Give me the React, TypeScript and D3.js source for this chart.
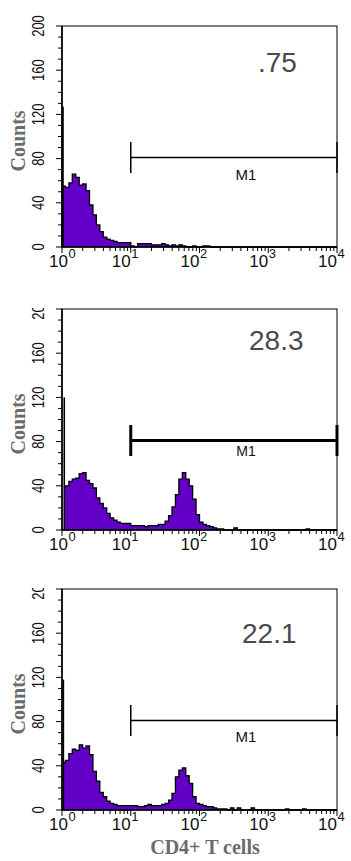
import React, { useEffect, useRef } from 'react';
import * as d3 from 'd3';

// histogram counts, one value per 0.05-decade channel bin from 10^0 to 10^4
const BIN = 0.05;
const countsA = [
  55, 54, 58, 66, 63, 56, 57, 51, 38, 29,
  20, 14, 9, 7, 6, 5, 4, 4, 4, 4,
  1, 0, 3, 3, 3, 3, 2, 2, 2, 3,
  2, 1, 2, 1, 2, 1, 0, 0, 1, 0,
  0, 1, 1, 0, 0, 0, 0, 0, 0, 0,
  0, 0, 0, 0, 0, 0, 0, 0, 0, 0,
  0, 0, 0, 0, 0, 0, 0, 0, 0, 0,
  0, 0, 0, 0, 0, 0, 0, 0, 0, 0,
];
const countsB = [
  38, 40, 44, 46, 47, 51, 52, 45, 42, 38,
  29, 24, 20, 15, 11, 9, 7, 6, 6, 6,
  4, 4, 4, 4, 3, 4, 4, 4, 5, 5,
  8, 13, 21, 32, 46, 52, 46, 40, 28, 14,
  7, 5, 4, 3, 2, 1, 1, 0, 0, 0,
  2, 0, 0, 0, 0, 0, 0, 0, 0, 0,
  0, 0, 0, 0, 0, 0, 0, 0, 0, 0,
  0, 1, 0, 0, 0, 0, 0, 0, 0, 0,
];
const countsC = [
  43, 45, 51, 55, 54, 59, 56, 58, 50, 35,
  26, 16, 12, 8, 6, 5, 4, 4, 4, 4,
  4, 4, 3, 3, 4, 5, 4, 4, 4, 5,
  6, 9, 15, 30, 36, 38, 31, 24, 12, 6,
  5, 4, 3, 3, 2, 1, 1, 1, 0, 2,
  0, 2, 0, 0, 0, 2, 0, 0, 0, 0,
  0, 0, 0, 0, 0, 1, 0, 0, 0, 0,
  1, 0, 0, 0, 0, 0, 0, 0, 0, 0,
];
const allCounts = [countsA, countsB, countsC];
// off-scale first channel (drawn as a bare line)
const spikeCounts = [127, 120, 118];
const spikeLogs = [0.01, 0.033, 0.02];
const gatePercents = ['.75', '28.3', '22.1'];
const gateRange = [10, 10000];
const gateCount = 81;
const yTicks = [0, 40, 80, 120, 160, 200];
const decades = [0, 1, 2, 3, 4];

const W = 351;
const H = 861;

const App = () => {
  const svgRef = useRef(null);

  useEffect(() => {
    const svg = d3.select(svgRef.current);
    svg.selectAll('*').remove();

    const plotH = 221;
    const left = 62;
    const right = 337;
    const panels = [
      { top: 26, pctX: 258, pctY: 46, gateW: 1.5, m1Y: 154, m1Size: 15, clip: false },
      { top: 309, pctX: 249, pctY: 41, gateW: 3, m1Y: 147, m1Size: 14, clip: true },
      { top: 589, pctX: 242, pctY: 54, gateW: 1.5, m1Y: 153, m1Size: 15, clip: true },
    ];

    const x = d3.scaleLog().domain([1, 10000]).range([left, right]);
    const y = d3.scaleLinear().domain([0, 200]).range([plotH, 0]);
    const sans = '"Liberation Sans", Arial, sans-serif';
    const serif = '"Liberation Serif", "Times New Roman", serif';

    const defs = svg.append('defs');

    panels.forEach((p, pi) => {
      const g = svg.append('g').attr('transform', `translate(0,${p.top})`);
      const counts = allCounts[pi];
      const pts = counts.map((c, i) => [Math.pow(10, i * BIN), c]);
      pts.push([10000, counts[counts.length - 1]]);

      const area = d3.area()
        .x(d => x(d[0]))
        .y0(y(0))
        .y1(d => y(d[1]))
        .curve(d3.curveStepAfter);
      const line = d3.line()
        .x(d => x(d[0]))
        .y(d => y(d[1]))
        .curve(d3.curveStepAfter);

      const startX = Math.pow(10, spikeLogs[pi]);
      const histPts = pts.map((d, i) => (i === 0 ? [startX, d[1]] : d));

      g.append('path').attr('d', area(histPts)).attr('fill', '#6200c8');
      g.append('path').attr('d', line(histPts))
        .attr('fill', 'none').attr('stroke', '#000').attr('stroke-width', 1.3);

      // first channel spike
      g.append('line')
        .attr('x1', x(startX)).attr('x2', x(startX))
        .attr('y1', y(0)).attr('y2', y(spikeCounts[pi]))
        .attr('stroke', '#000').attr('stroke-width', pi === 0 ? 2.2 : 1.6);

      // frame
      g.append('rect')
        .attr('x', left).attr('y', 0)
        .attr('width', right - left).attr('height', plotH)
        .attr('fill', 'none').attr('stroke', '#000').attr('stroke-width', 1);
      g.append('line')
        .attr('x1', left).attr('x2', left).attr('y1', 0).attr('y2', plotH)
        .attr('stroke', '#000').attr('stroke-width', 1.6);
      g.append('line')
        .attr('x1', left).attr('x2', right).attr('y1', plotH).attr('y2', plotH)
        .attr('stroke', '#000').attr('stroke-width', 1.6);

      // y ticks
      d3.range(0, 201, 10).forEach(v => {
        g.append('line')
          .attr('x1', left).attr('x2', left - (v % 40 === 0 ? 6 : 4))
          .attr('y1', y(v)).attr('y2', y(v))
          .attr('stroke', '#000').attr('stroke-width', 1);
      });

      const yLab = g.append('g');
      if (p.clip) {
        defs.append('clipPath').attr('id', `yclip${pi}`)
          .append('rect').attr('x', 0).attr('y', -1).attr('width', W).attr('height', 300);
        yLab.attr('clip-path', `url(#yclip${pi})`);
      }
      yTicks.forEach(v => {
        yLab.append('text')
          .attr('transform', `translate(44,${y(v)}) scale(1.22,1) rotate(-90)`)
          .attr('text-anchor', 'middle')
          .style('font-family', sans)
          .style('font-size', '13px')
          .attr('fill', '#111')
          .text(v);
      });

      // x ticks
      decades.slice(0, 4).forEach(d => {
        d3.range(1, 10).forEach(m => {
          const v = m * Math.pow(10, d);
          g.append('line')
            .attr('x1', x(v)).attr('x2', x(v))
            .attr('y1', plotH).attr('y2', plotH + (m === 1 ? 6 : 4))
            .attr('stroke', '#000').attr('stroke-width', 1);
        });
      });
      g.append('line')
        .attr('x1', x(10000)).attr('x2', x(10000))
        .attr('y1', plotH).attr('y2', plotH + 6)
        .attr('stroke', '#000').attr('stroke-width', 1);

      decades.forEach(d => {
        const tx = x(Math.pow(10, d)) + (d === 0 ? 6 : 0);
        g.append('text')
          .attr('x', tx).attr('y', plotH + 20)
          .attr('text-anchor', 'end')
          .style('font-family', sans)
          .style('font-size', '17px')
          .attr('fill', '#111')
          .text('10');
        g.append('text')
          .attr('x', tx + 0.5).attr('y', plotH + 11)
          .style('font-family', sans)
          .style('font-size', '13px')
          .attr('fill', '#111')
          .text(d);
      });

      // Counts label
      g.append('text')
        .attr('transform', `translate(25,115) rotate(-90)`)
        .attr('text-anchor', 'middle')
        .style('font-family', serif)
        .style('font-size', '20px')
        .style('font-weight', 'bold')
        .attr('fill', '#6b6b6b')
        .text('Counts');

      // M1 gate
      const gy = y(gateCount);
      g.append('line')
        .attr('x1', x(gateRange[0])).attr('x2', x(gateRange[1]))
        .attr('y1', gy).attr('y2', gy)
        .attr('stroke', '#000').attr('stroke-width', p.gateW);
      gateRange.forEach(v => {
        g.append('line')
          .attr('x1', x(v)).attr('x2', x(v))
          .attr('y1', gy - 15.5).attr('y2', gy + 15.5)
          .attr('stroke', '#000').attr('stroke-width', p.gateW);
      });
      g.append('text')
        .attr('x', 246).attr('y', p.m1Y)
        .attr('text-anchor', 'middle')
        .style('font-family', sans)
        .style('font-size', `${p.m1Size}px`)
        .attr('fill', '#111')
        .text('M1');

      // gate percent
      g.append('text')
        .attr('x', p.pctX).attr('y', p.pctY)
        .style('font-family', sans)
        .style('font-size', '28px')
        .attr('fill', '#4a4a4a')
        .text(gatePercents[pi]);
    });

    svg.append('text')
      .attr('x', 205).attr('y', 854)
      .attr('text-anchor', 'middle')
      .style('font-family', serif)
      .style('font-size', '20px')
      .style('font-weight', 'bold')
      .attr('fill', '#6b6b6b')
      .text('CD4+ T cells');
  }, []);

  return (
    <div style={{ position: 'absolute', left: 0, top: 0, width: W, height: H, background: '#fff' }}>
      <svg ref={svgRef} width={W} height={H} style={{ display: 'block' }} />
    </div>
  );
};

export default App;
